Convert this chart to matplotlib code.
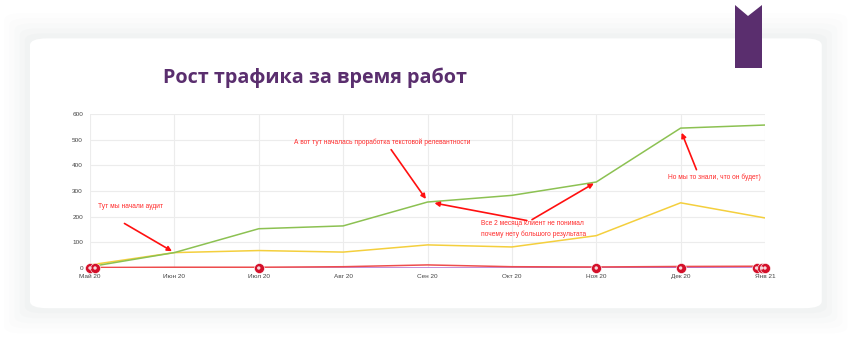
import matplotlib
matplotlib.use("Agg")
from matplotlib import pyplot as plt
from matplotlib.patches import FancyBboxPatch, Polygon

months = ["Май 20", "Июн 20", "Июл 20", "Авг 20", "Сен 20", "Окт 20", "Ноя 20", "Дек 20", "Янв 21"]
green = [5, 60, 153, 164, 257, 283, 335, 545, 557]
yellow = [12, 60, 68, 62, 90, 82, 126, 254, 195]
red = [2, 3, 3, 5, 12, 5, 4, 6, 7]
purple = [0, 0, 0, 0, 0, 0, 2, 3, 4]
note_x = [0.0, 0.06, 2.0, 6.0, 7.0, 7.9, 7.96, 8.0]
yticks = [0, 100, 200, 300, 400, 500, 600]

plt.rcParams['font.family'] = ['Liberation Sans', 'DejaVu Sans']

fig = plt.figure(figsize=(8.56, 3.49), dpi=100)
fig.patch.set_facecolor("white")

# card with a soft shadow
for i, a in enumerate([0.018, 0.02, 0.025, 0.03, 0.035]):
    pad = (5 - i) * 0.006
    sh = FancyBboxPatch((0.035 - pad, 0.117 - pad * 2.4), 0.925 + 2 * pad, 0.773 + pad * 4.8,
                        boxstyle="round,pad=0,rounding_size=0.02", transform=fig.transFigure,
                        facecolor="#9aa7b5", edgecolor="none", alpha=a, zorder=0)
    fig.patches.append(sh)
card = FancyBboxPatch((0.035, 0.117), 0.925, 0.773,
                      boxstyle="round,pad=0,rounding_size=0.02", transform=fig.transFigure,
                      facecolor="white", edgecolor="none", zorder=1)
fig.patches.append(card)

# bookmark ribbon
ribbon = Polygon([(735 / 856, 1 - 5 / 349), (748 / 856, 1 - 16 / 349), (762 / 856, 1 - 5 / 349),
                  (762 / 856, 1 - 68 / 349), (735 / 856, 1 - 68 / 349)],
                 closed=True, transform=fig.transFigure, facecolor="#5a2e6e", edgecolor="none", zorder=2)
fig.patches.append(ribbon)

fig.text(163 / 856, 1 - 78 / 349, "Рост трафика за время работ", fontsize=14.2, color="#5a2e6e",
         fontweight="bold", va="center", ha="left", family=["Open Sans", "DejaVu Sans"], zorder=3)

ax = fig.add_axes([90 / 856, 1 - 268 / 349, 675 / 856, 154 / 349])
ax.set_facecolor("none")
ax.set_zorder(3)
x = list(range(len(months)))
ax.plot(x, purple, color="#b36fd1", lw=1.1, zorder=3)
ax.plot(x, red, color="#ee4d4d", lw=1.1, zorder=3)
ax.plot(x, yellow, color="#f4cf3d", lw=1.1, zorder=3)
ax.plot(x, green, color="#8cc152", lw=1.1, zorder=3)
ax.scatter(note_x, [0] * len(note_x), s=52, facecolor="#d4102a", edgecolor="white", linewidth=0.4,
           zorder=5, clip_on=False)
ax.scatter(note_x, [0] * len(note_x), s=6, facecolor="#f6d6da", edgecolor="none",
           zorder=6, clip_on=False)

ax.set_xlim(0, 8)
ax.set_ylim(0, 600)
ax.set_xticks(x)
ax.set_xticklabels(months)
ax.set_yticks(yticks)
ax.tick_params(length=0, labelsize=4.6, colors="#444444")
ax.tick_params(axis="y", pad=5)
ax.tick_params(axis="x", pad=4)
ax.grid(True, color="#ececec", lw=0.8)
for s in ax.spines.values():
    s.set_visible(False)

red_txt = "#ff2a2a"
fs = 4.8
arrow = dict(arrowstyle="-|>", color="#ff1010", lw=1.2, mutation_scale=7)
ax.text(0.095, 238, "Тут мы начали аудит", fontsize=fs, color=red_txt, ha="left", va="center")
ax.annotate("", xy=(1, green[1]), xytext=(0.38, 179), arrowprops=arrow)
ax.text(2.42, 490, "А вот тут началась проработка текстовой релевантности", fontsize=fs,
        color=red_txt, ha="left", va="center")
ax.annotate("", xy=(4.0, green[4] + 3), xytext=(3.55, 470), arrowprops=arrow)
ax.text(4.63, 152, "Все 2 месяца клиент не понимал\nпочему нету большого результата", fontsize=fs,
        color=red_txt, ha="left", va="center", linespacing=1.6)
ax.annotate("", xy=(4.05, green[4] - 2), xytext=(5.21, 183), arrowprops=arrow)
ax.annotate("", xy=(6.0, green[6]), xytext=(5.21, 183), arrowprops=arrow)
ax.text(6.85, 352, "Но мы то знали, что он будет)", fontsize=fs, color=red_txt, ha="left", va="center")
ax.annotate("", xy=(7.0, green[7] - 8), xytext=(7.2, 373), arrowprops=arrow)

plt.savefig("out.png", dpi=100)
plt.close()
